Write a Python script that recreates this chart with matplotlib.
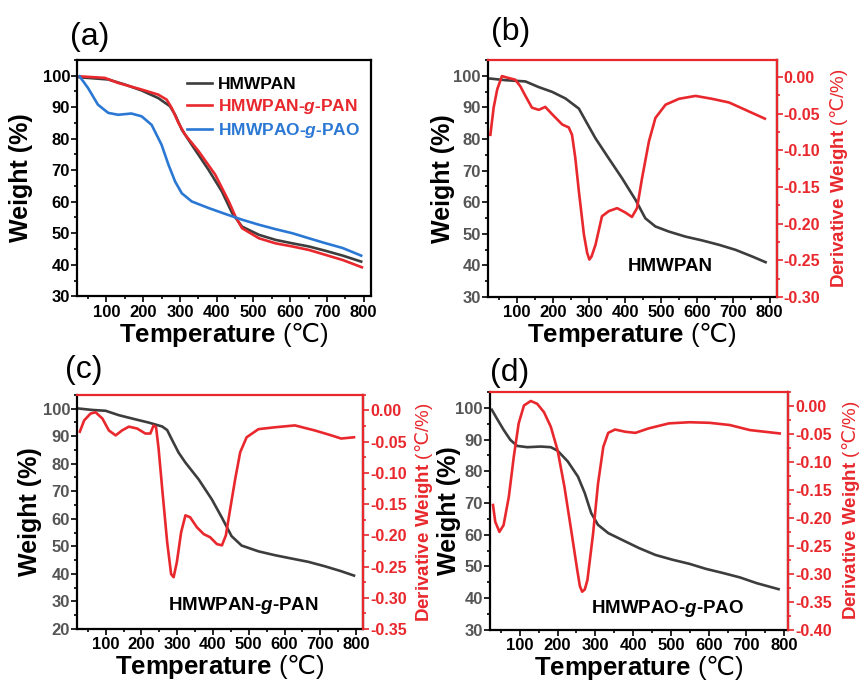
import numpy as np
import matplotlib
matplotlib.use("Agg")
import matplotlib.pyplot as plt
from matplotlib.ticker import MultipleLocator

plt.rcParams['font.family'] = ['Liberation Sans', 'DejaVu Sans']
plt.rcParams['mathtext.fontset'] = 'custom'
plt.rcParams['mathtext.rm'] = 'Noto Sans CJK SC'
plt.rcParams['mathtext.bf'] = 'Liberation Sans:bold'
plt.rcParams['mathtext.it'] = 'Liberation Sans:italic:bold'

GRAY = "#3d3d3d"
RED = "#e8282d"
BLUE = "#2b78d4"

# ---------- data ----------
# (a) TGA comparison
a_pan_T = [27, 105, 150, 196, 241, 273, 287, 305, 332, 378, 414, 442, 469, 515, 560, 606, 651, 697, 743, 793]
a_pan_W = [99.5, 98.8, 97.2, 95.3, 92.9, 90.3, 87.6, 82.9, 78.1, 70.1, 63.3, 56.4, 52.1, 49.5, 47.9, 46.8, 45.8, 44.4, 42.9, 41.0]
a_gpan_T = [27, 96, 132, 196, 241, 264, 278, 296, 314, 351, 396, 433, 451, 469, 515, 560, 606, 651, 697, 743, 795]
a_gpan_W = [99.8, 99.3, 97.7, 95.6, 94.0, 92.4, 89.7, 85.0, 81.3, 76.0, 68.6, 60.1, 55.3, 51.6, 48.4, 46.8, 45.8, 44.7, 43.1, 41.5, 39.2]
a_gpao_T = [27, 50, 77, 105, 132, 168, 196, 223, 250, 269, 287, 305, 332, 378, 424, 469, 515, 560, 606, 651, 697, 743, 793]
a_gpao_W = [99.8, 96.1, 90.8, 88.2, 87.6, 88.0, 87.1, 84.4, 78.1, 71.7, 66.4, 62.7, 60.1, 58.0, 56.1, 54.3, 52.7, 51.3, 50.0, 48.4, 46.8, 45.3, 42.9]
legend_labels = ["HMWPAN", "HMWPAN-$\\mathit{g}$-PAN", "HMWPAO-$\\mathit{g}$-PAO"]

# (b) HMWPAN
b_T = [27, 69, 124, 161, 198, 235, 272, 290, 318, 355, 392, 429, 456, 484, 521, 567, 613, 660, 706, 752, 789]
b_W = [99.1, 98.6, 98.2, 96.4, 94.9, 92.8, 89.6, 85.9, 80.2, 73.8, 67.5, 60.7, 54.9, 52.3, 50.7, 49.1, 47.9, 46.5, 44.9, 42.8, 41.0]
b_dT = [27, 36, 46, 59, 73, 96, 110, 124, 142, 161, 179, 198, 226, 244, 253, 262, 272, 286, 295, 301, 307, 318,
        336, 355, 378, 401, 419, 433, 447, 466, 484, 512, 549, 595, 641, 688, 733, 787]
b_D = [-0.079, -0.042, -0.017, 0.001, -0.001, -0.004, -0.013, -0.026, -0.042, -0.045, -0.041, -0.051,
       -0.065, -0.069, -0.079, -0.110, -0.156, -0.215, -0.240, -0.249, -0.245, -0.229, -0.190, -0.183, -0.179, -0.185,
       -0.191, -0.179, -0.138, -0.088, -0.056, -0.038, -0.030, -0.026, -0.030, -0.035, -0.045, -0.057]

# (c) HMWPAN-g-PAN
c_T = [26, 63, 100, 137, 183, 221, 258, 272, 285, 304, 323, 360, 397, 425, 452, 480, 527, 573, 619, 666, 712, 758, 794]
c_W = [100.0, 99.5, 99.2, 97.6, 96.1, 94.9, 93.5, 92.2, 88.8, 84.0, 80.4, 74.3, 67.0, 60.4, 53.7, 50.3, 48.2, 46.8, 45.6, 44.4, 42.8, 41.0, 39.4]
c_dT = [28, 40, 58, 72, 91, 109, 128, 146, 165, 188, 211, 225, 234, 241, 248, 259, 272, 283, 290, 299,
        311, 323, 336, 355, 374, 392, 411, 425, 436, 448, 462, 476, 494, 527, 573, 629, 684, 731, 758, 794]
c_D = [-0.034, -0.016, -0.005, -0.003, -0.013, -0.032, -0.040, -0.032, -0.026, -0.029, -0.037, -0.037,
       -0.024, -0.027, -0.061, -0.131, -0.211, -0.262, -0.267, -0.243, -0.195, -0.168, -0.171, -0.187,
       -0.198, -0.203, -0.214, -0.216, -0.200, -0.158, -0.110, -0.067, -0.043, -0.030, -0.027, -0.024,
       -0.032, -0.040, -0.045, -0.043]

# (d) HMWPAO-g-PAO
d_T = [26, 39, 57, 75, 93, 120, 155, 182, 200, 227, 254, 272, 289, 307, 334, 370, 415, 459, 504, 549, 593, 638, 683, 727, 785]
d_W = [99.4, 96.7, 93.1, 89.9, 88.0, 87.6, 87.8, 87.6, 86.5, 83.1, 78.3, 73.1, 66.8, 63.1, 60.5, 58.4, 55.8, 53.6, 52.1, 50.8, 49.2, 47.9, 46.5, 44.7, 42.8]
d_dT = [29, 35, 46, 57, 71, 84, 97, 111, 129, 146, 164, 182, 200, 218, 236, 252, 259, 265, 272, 279, 294, 307,
        321, 334, 352, 379, 406, 441, 495, 549, 602, 656, 709, 788]
d_D = [-0.177, -0.207, -0.225, -0.213, -0.162, -0.091, -0.031, 0.001, 0.009, 0.004, -0.011, -0.037,
       -0.079, -0.144, -0.222, -0.293, -0.322, -0.332, -0.328, -0.311, -0.228, -0.139, -0.073, -0.048, -0.042, -0.046,
       -0.048, -0.040, -0.031, -0.029, -0.030, -0.034, -0.043, -0.049]

XLABEL = r"$\mathbf{Temperature}$ ($\mathrm{℃}$)"
YLABEL = "Weight (%)"
Y2LABEL = r"$\mathbf{Derivative\ Weight}$ ($\mathrm{℃}$/%)"

LW = 1.9


# ---------- helpers ----------
def style_left(ax, ylim, tick_color, ylab_x):
    ax.set_xlim(20, 820)
    ax.set_ylim(*ylim)
    ax.xaxis.set_minor_locator(MultipleLocator(50))
    ax.yaxis.set_major_locator(MultipleLocator(10))
    ax.yaxis.set_minor_locator(MultipleLocator(5))
    ax.set_xticks(np.arange(100, 801, 100))
    ax.tick_params(which="both", direction="out", width=1.2)
    ax.tick_params(which="major", length=4)
    ax.tick_params(which="minor", length=2.5)
    ax.tick_params(axis="x", labelsize=12, pad=2)
    ax.tick_params(axis="y", labelsize=12, labelcolor=tick_color, pad=1)
    for lab in ax.get_xticklabels() + ax.get_yticklabels():
        lab.set_fontweight("bold")
    for s in ax.spines.values():
        s.set_linewidth(1.6)
    ax.set_xlabel(XLABEL, fontsize=18.5, labelpad=0)
    ax.set_ylabel(YLABEL, fontsize=18, fontweight="bold")
    ax.yaxis.set_label_coords(ylab_x, 0.5)


def style_right(ax, ylim, ylab_x):
    ax.set_ylim(*ylim)
    ax.yaxis.set_major_locator(MultipleLocator(0.05))
    ax.yaxis.set_minor_locator(MultipleLocator(0.025))
    ax.yaxis.set_major_formatter(plt.FuncFormatter(lambda v, p: f"{v:.2f}" if abs(v) > 1e-9 else "0.00"))
    ax.tick_params(which="both", direction="out", colors=RED, width=1.2)
    ax.tick_params(which="major", length=4)
    ax.tick_params(which="minor", length=2.5)
    ax.tick_params(axis="y", labelsize=11.5, pad=1)
    for lab in ax.get_yticklabels():
        lab.set_fontweight("bold")
    ax.spines["right"].set_color(RED)
    ax.spines["top"].set_color(RED)
    ax.spines["right"].set_linewidth(1.6)
    ax.spines["top"].set_linewidth(1.6)
    ax.spines["left"].set_visible(False)
    ax.spines["bottom"].set_visible(False)
    ax.set_ylabel(Y2LABEL, fontsize=13.5, color=RED)
    ax.yaxis.set_label_coords(ylab_x, 0.5)


def dtg_panel(rect, T, W, dT, D, wlim, dlim, name, name_xy, labx, rlabx):
    ax = fig.add_axes(rect)
    ax.plot(T, W, color=GRAY, lw=LW)
    style_left(ax, wlim, "#555555", labx)
    ax.spines["top"].set_visible(False)
    ax.text(name_xy[0], name_xy[1], name, fontsize=13.5, fontweight="bold",
            ha="center", va="center")
    ax2 = ax.twinx()
    ax2.plot(dT, D, color=RED, lw=LW)
    style_right(ax2, dlim, rlabx)
    ax2.set_xlim(20, 820)
    return ax, ax2


# ---------- figure ----------
fig = plt.figure(figsize=(8.65, 6.89), dpi=100)

# (a)
ax_a = fig.add_axes([0.089, 0.570, 0.340, 0.343])
l1, = ax_a.plot(a_pan_T, a_pan_W, color=GRAY, lw=LW)
l2, = ax_a.plot(a_gpan_T, a_gpan_W, color=RED, lw=LW)
l3, = ax_a.plot(a_gpao_T, a_gpao_W, color=BLUE, lw=LW)
style_left(ax_a, (30, 105), "black", -0.150)
leg = ax_a.legend([l1, l2, l3], legend_labels, loc="upper left",
                  bbox_to_anchor=(0.375, 0.93), frameon=False, borderpad=0,
                  borderaxespad=0, handlelength=1.45, handletextpad=0.3,
                  labelspacing=0.3, prop={"weight": "bold", "size": 12.5})
for txt, c in zip(leg.get_texts(), ["black", RED, BLUE]):
    txt.set_color(c)

# (b)
dtg_panel([0.564, 0.569, 0.334, 0.344], b_T, b_W, b_dT, b_D,
          (30, 105), (-0.30, 0.023), "HMWPAN", (525, 39.5), -0.114, 1.176)
# (c)
dtg_panel([0.089, 0.087, 0.331, 0.340], c_T, c_W, c_dT, c_D,
          (20, 105), (-0.35, 0.025), "HMWPAN-$\\mathit{g}$-PAN", (485, 28.7), -0.122, 1.175)
# (d)
axd, axd2 = dtg_panel([0.566, 0.086, 0.345, 0.345], d_T, d_W, d_dT, d_D,
                      (30, 105), (-0.40, 0.025), "HMWPAO-$\\mathit{g}$-PAO", (492, 36.6), -0.095, 1.175)
axd.set_xlim(20, 810)
axd2.set_xlim(20, 810)

# panel letters
for lbl, x, y in [("(a)", 90, 37), ("(b)", 511, 32), ("(c)", 84, 370), ("(d)", 510, 373)]:
    fig.text(x / 865, 1 - y / 689, lbl, fontsize=23, ha="center", va="center")

fig.savefig("out.png", dpi=100)
